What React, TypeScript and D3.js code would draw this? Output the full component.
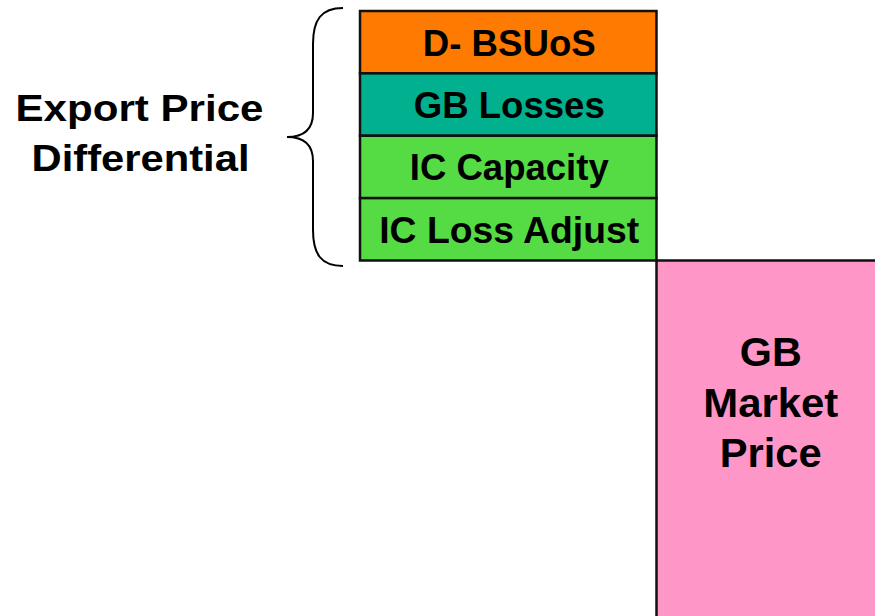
import React from "react";
import * as d3 from "d3";

// Components of the export price differential (top to bottom), equal-height blocks
const components = ["D- BSUoS", "GB Losses", "IC Capacity", "IC Loss Adjust"];
const componentUnits = [1, 1, 1, 1];
const componentColors = ["#FF7A00", "#00B08E", "#55DC44", "#55DC44"];

// GB market price block
const marketLabel = ["GB", "Market", "Price"];
const marketUnits = [6];
const marketColor = "#FF96C8";

// Left label
const groupLabel = ["Export Price", "Differential"];

const W = 875;
const H = 616;

const componentTextWidths = [173, 191, 199, 260];
const marketTextWidths = [62, 135, 102];
const groupTextWidths = [248, 218];

export default function App() {
  const totalUnits = d3.sum(componentUnits);
  const y = d3.scaleLinear().domain([0, totalUnits]).range([11, 260.5]);
  const x = d3.scaleBand<string>().domain(["diff", "market"]).range([360, 954]).paddingInner(0);

  const stacks = componentUnits.map((u, i) => {
    const s = d3.sum(componentUnits.slice(0, i));
    return { name: components[i], y0: y(s), y1: y(s + u), color: componentColors[i] };
  });

  const bx = x("diff")!;
  const bw = 296.5;
  const mx = bx + bw;
  const mTop = y(totalUnits);
  const mBottom = y(totalUnits + marketUnits[0]);
  const visibleRight = 885;

  // brace
  const p = d3.path();
  const bt = 8, bb = 266, tipX = 287, vx = 313, ex = 343;
  const mid = (bt + bb) / 2;
  p.moveTo(ex, bt);
  p.bezierCurveTo(321, bt, vx, bt + 12, vx, bt + 36);
  p.lineTo(vx, mid - 24);
  p.bezierCurveTo(vx, mid - 8, 305, mid, tipX, mid);
  p.bezierCurveTo(305, mid, vx, mid + 8, vx, mid + 24);
  p.lineTo(vx, bb - 36);
  p.bezierCurveTo(vx, bb - 12, 321, bb, ex, bb);

  const tstyle: React.CSSProperties = { fontFamily: "Liberation Sans, Arial, sans-serif", fontWeight: 700 };

  return (
    <svg width={W} height={H} style={{ position: "absolute", left: 0, top: 0 }}>
      <rect x={0} y={0} width={W} height={H} fill="#fff" />
      {/* market price block */}
      <rect x={mx} y={mTop} width={400} height={mBottom - mTop} fill={marketColor} stroke="#111" strokeWidth={2.5} />
      {marketLabel.map((t, i) => (
        <text key={t} x={(mx + visibleRight) / 2} y={366 + i * 50.5} textAnchor="middle" fontSize={41} fill="#000"
          style={tstyle} textLength={marketTextWidths[i]} lengthAdjust="spacingAndGlyphs">
          {t}
        </text>
      ))}
      {/* stacked components */}
      {stacks.map((s, i) => (
        <g key={s.name}>
          <rect x={bx} y={s.y0} width={bw} height={s.y1 - s.y0} fill={s.color} stroke="#111" strokeWidth={2.5} />
          <text x={bx + bw / 2 + 1} y={(s.y0 + s.y1) / 2 + 13.5} textAnchor="middle" fontSize={37} fill="#000"
            style={tstyle} textLength={componentTextWidths[i]} lengthAdjust="spacingAndGlyphs">
            {s.name}
          </text>
        </g>
      ))}
      {/* brace */}
      <path d={p.toString()} fill="none" stroke="#000" strokeWidth={2} />
      {/* group label */}
      {groupLabel.map((t, i) => (
        <text key={t} x={139.5 + i} y={121 + i * 50} textAnchor="middle" fontSize={37} fill="#000"
          style={tstyle} textLength={groupTextWidths[i]} lengthAdjust="spacingAndGlyphs">
          {t}
        </text>
      ))}
    </svg>
  );
}
